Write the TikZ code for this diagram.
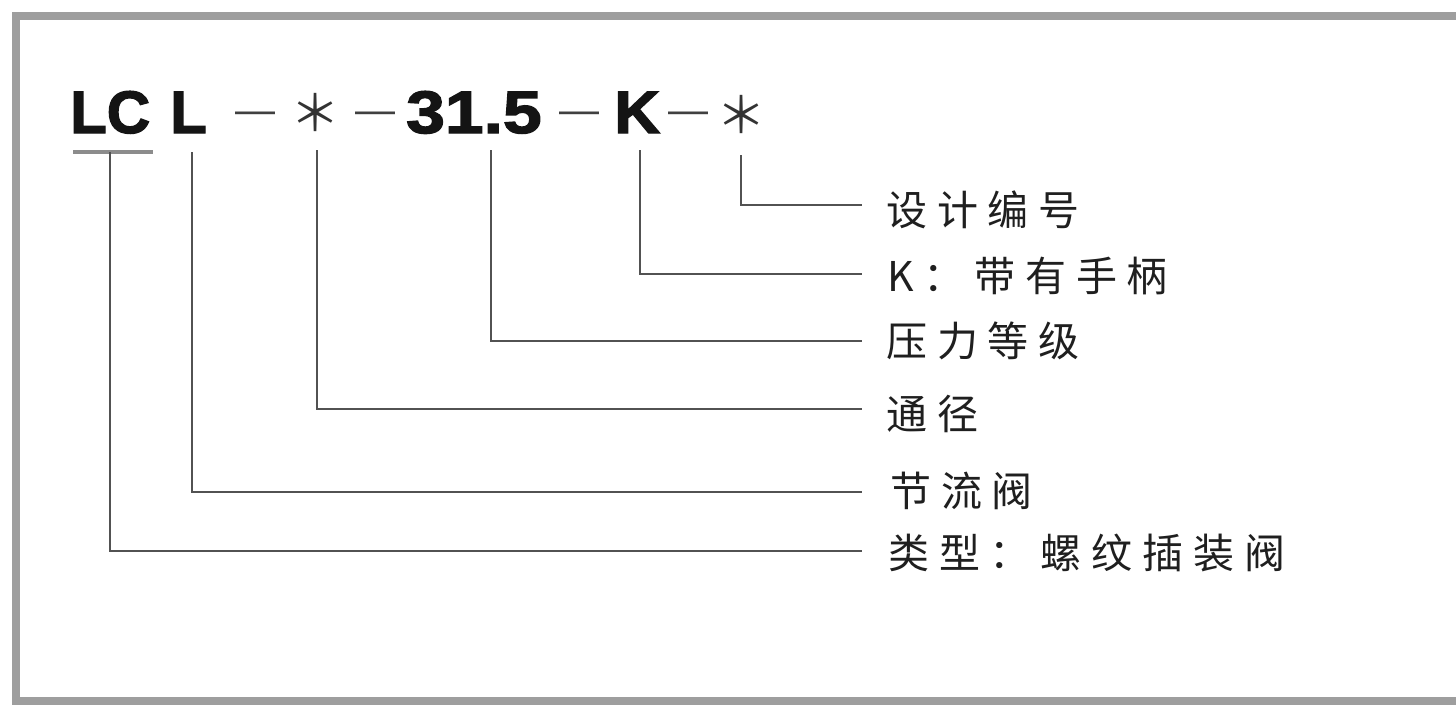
\documentclass[tikz,border=0pt]{standalone}
\usepackage{fontspec}
\newfontfamily\cjk[LetterSpace=24]{Noto Sans CJK SC}
\newfontfamily\codefont[FakeBold=2.2]{Liberation Sans Bold}
\newfontfamily\dashfont{Liberation Sans}
\newfontfamily\astfont{Noto Sans CJK SC}
\begin{document}
\begin{tikzpicture}[x=1pt,y=-1pt,
  code/.style={inner sep=0pt,anchor=base west,text=black!92,font=\codefont\fontsize{60}{60}\selectfont},
  dashtxt/.style={inner sep=0pt,anchor=base west,text=black!75,font=\dashfont\fontsize{40}{40}\selectfont},
  asttxt/.style={inner sep=0pt,anchor=center,text=black!80,font=\astfont\fontsize{50}{50}\selectfont},
  label/.style={inner sep=0pt,anchor=west,text=black!88,font=\cjk\fontsize{41}{41}\selectfont},
  conn/.style={draw=black!68,line width=2.2pt},
  frame/.style={draw=black!38,line width=8pt}]
\useasboundingbox (0,0) rectangle (1456,704);
\fill[white] (0,0) rectangle (1456,704);
\draw[frame] (16,16) rectangle (1480,701);
% code line
\node[code] (lc) at (70,133) {LC};
\node[code] (l) at (170,133) {L};
\node[dashtxt] (d1) at (235,123) {—};
\node[asttxt] (a1) at (315,112) {＊};
\node[dashtxt] (d2) at (355,123) {—};
\node[code] (num) at (406,133) {\scalebox{1.16}[1]{31.5}};
\node[dashtxt] (d3) at (559,123) {—};
\node[code] (k) at (614,133) {\scalebox{1.06}[1]{K}};
\node[dashtxt] (d4) at (668,123) {—};
\node[asttxt] (a2) at (741,114) {＊};
% labels
\node[label] (t1) at (886,210) {设计编号};
\node[label] (t2) at (887,276) {K：带有手柄};
\node[label] (t3) at (886,341) {压力等级};
\node[label] (t4) at (886,414) {通径};
\node[label] (t5) at (890,491) {节流阀};
\node[label] (t6) at (888,553) {类型：螺纹插装阀};
% connector anchors
\coordinate (s1) at (741,155);
\coordinate (s2) at (640,150);
\coordinate (s3) at (491,150);
\coordinate (s4) at (317,150);
\coordinate (s5) at (192,152);
\coordinate (s6) at (110,152);
\coordinate (e1) at (862,205);
\coordinate (e2) at (862,274);
\coordinate (e3) at (862,341);
\coordinate (e4) at (862,409);
\coordinate (e5) at (862,492);
\coordinate (e6) at (862,551);
\draw[draw=black!45,line width=4pt] (73,152) -- (153,152);
\draw[conn] (s1) |- (e1);
\draw[conn] (s2) |- (e2);
\draw[conn] (s3) |- (e3);
\draw[conn] (s4) |- (e4);
\draw[conn] (s5) |- (e5);
\draw[conn] (s6) |- (e6);
\end{tikzpicture}
\end{document}
